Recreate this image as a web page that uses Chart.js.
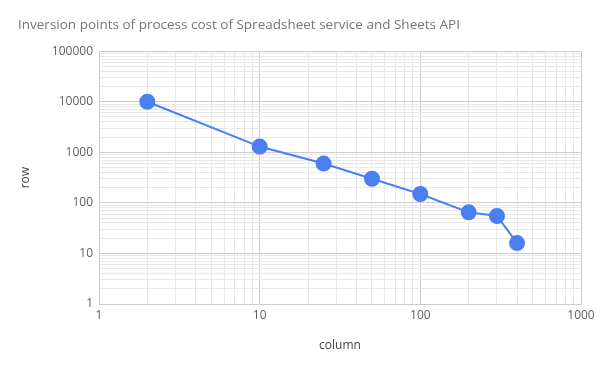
<!DOCTYPE html>
<html lang="en">
  <head>
    <meta charset="UTF-8" />
    <title>Inversion points</title>
    <script src="https://cdn.jsdelivr.net/npm/chart.js"></script>
    <style>
      body {
        margin: 0;
        padding: 0;
        background: #fff;
      }
      .chart-box {
        position: relative;
        width: 600px;
        height: 371px;
      }
    </style>
  </head>
  <body>
    <div class="chart-box">
      <canvas id="invChart"></canvas>
    </div>

    <script>
      // data
      const columns = [2, 10, 25, 50, 100, 200, 300, 400];
      const rows = [10000, 1300, 600, 300, 150, 65, 55, 16];
      const xMajorTicks = [1, 10, 100, 1000];
      const yMajorTicks = [1, 10, 100, 1000, 10000, 100000];

      // minor gridlines at 2..9 inside each decade
      function logGrid(majors) {
        const out = [];
        majors.forEach((m, i) => {
          out.push({ value: m, major: true });
          if (i < majors.length - 1) {
            for (let k = 2; k <= 9; k++) out.push({ value: m * k, major: false });
          }
        });
        return out;
      }

      const font = '"Open Sans", sans-serif';
      const gridColor = (ctx) => (ctx.tick && ctx.tick.major ? "#cccccc" : "#e8e8e8");

      new Chart(document.getElementById("invChart"), {
        type: "line",
        data: {
          datasets: [
            {
              data: columns.map((c, i) => ({ x: c, y: rows[i] })),
              borderColor: "#4a7ff0",
              backgroundColor: "#4a7ff0",
              borderWidth: 2,
              pointRadius: 7,
              pointHoverRadius: 7,
              tension: 0,
            },
          ],
        },
        options: {
          responsive: true,
          maintainAspectRatio: false,
          animation: false,
          layout: { padding: { left: 18, right: 19, top: 0, bottom: 0 } },
          plugins: {
            legend: { display: false },
            tooltip: { enabled: false },
            title: {
              display: true,
              text: "Inversion points of process cost of Spreadsheet service and Sheets API",
              align: "start",
              color: "#757575",
              font: { family: font, size: 13.5, weight: "normal" },
              padding: { top: 17, bottom: 18 },
            },
          },
          scales: {
            x: {
              type: "logarithmic",
              min: 1,
              max: 1000,
              afterBuildTicks: (scale) => (scale.ticks = logGrid(xMajorTicks)),
              afterFit: (scale) => (scale.height = 67),
              ticks: {
                autoSkip: false,
                maxRotation: 0,
                color: "#5f5f5f",
                font: { family: font, size: 12 },
                padding: 4,
                callback: (v) => (xMajorTicks.includes(v) ? String(v) : ""),
              },
              grid: { color: gridColor, drawTicks: false },
              border: { color: "#cccccc" },
              title: {
                display: true,
                text: "column",
                color: "#444",
                font: { family: font, size: 12 },
                padding: { top: 18, bottom: 18 },
              },
            },
            y: {
              type: "logarithmic",
              min: 1,
              max: 100000,
              afterBuildTicks: (scale) => (scale.ticks = logGrid(yMajorTicks)),
              afterFit: (scale) => (scale.width = 81),
              ticks: {
                autoSkip: false,
                color: "#5f5f5f",
                font: { family: font, size: 12 },
                padding: 6,
                callback: (v) => (yMajorTicks.includes(v) ? String(v) : ""),
              },
              grid: { color: gridColor, drawTicks: false },
              border: { color: "#cccccc" },
              title: {
                display: true,
                text: "row",
                color: "#444",
                font: { family: font, size: 12 },
                padding: { top: 0, bottom: 0 },
              },
            },
          },
        },
      });
    </script>
  </body>
</html>
